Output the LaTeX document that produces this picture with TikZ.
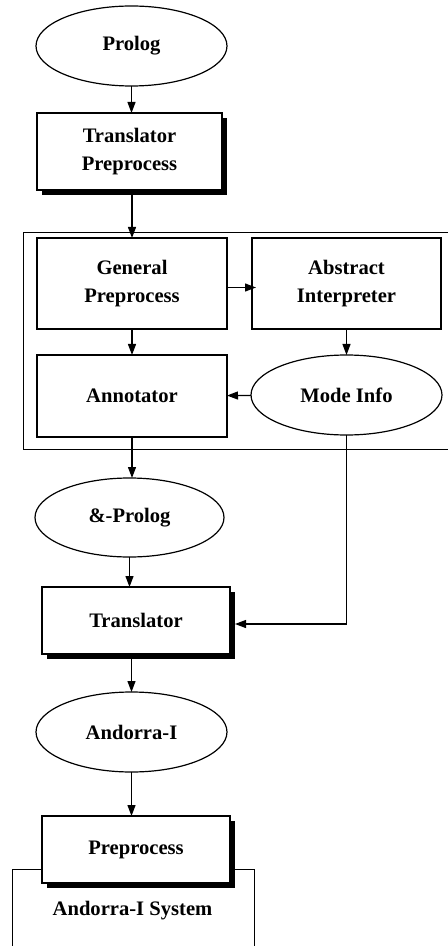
\documentclass[tikz,border=0pt]{standalone}
\usepackage{fontspec}
\setmainfont{Liberation Serif}
\usetikzlibrary{shapes,arrows.meta,positioning,calc,shadows}
\pgfdeclarelayer{background}
\pgfsetlayers{background,main}

\begin{document}
\begin{tikzpicture}[auto, >={Triangle[length=5.5pt,width=4pt]}, line width=0.6pt]
        \tikzset{
            block/.style={draw, fill=white, rectangle, minimum width=95pt, minimum height=45.5pt, align=center, inner sep=2pt, outer sep=0pt, font=\bfseries\fontsize{10.3}{14}\selectfont},
            shadowed/.style={drop shadow={shadow xshift=2.5pt, shadow yshift=-2.5pt, fill=black, opacity=1}},
            lang/.style={draw, fill=white, ellipse, minimum width=95.5pt, minimum height=40pt, align=center, inner sep=0pt, outer sep=0pt, font=\bfseries\fontsize{10.3}{14}\selectfont},
            line/.style={->, line width=0.6pt},
        }
        \useasboundingbox (-65.75pt,23pt) rectangle (157.75pt,-450pt);
        
        % Source language
        \node [lang] (prolog) {Prolog};
        
        % Translator preprocess
        \node [block, shadowed, below=13.5pt of prolog, xshift=-1pt, minimum width=92.5pt, minimum height=38.5pt] (tpre) {Translator\\Preprocess};
        
        % Annotation stage
        \node [block, below=24pt of tpre, xshift=1.25pt] (gp) {General\\Preprocess};
        \node [block, right=12.5pt of gp, minimum width=94.5pt] (ai) {Abstract\\Interpreter};
        \node [block, below=13pt of gp, minimum height=41pt] (ann) {Annotator};
        \node [lang, below=13pt of ai] (mi) {Mode Info};
        
        % Annotated program
        \node [lang, below=20.5pt of ann, xshift=-1.25pt, minimum width=94.5pt, minimum height=39.5pt] (amp) {\&-Prolog};
        
        % Translator
        \node [block, shadowed, below=15pt of amp, xshift=3.25pt, minimum width=94pt, minimum height=33.5pt] (tr) {Translator};
        
        % Target language
        \node [lang, below=19pt of tr, xshift=-2.25pt] (andorra) {Andorra-I};
        
        % Andorra-I system
        \node [block, shadowed, below=22pt of andorra, xshift=2.25pt, minimum width=94pt, minimum height=33.5pt] (pre) {Preprocess};
        \node [below=9pt of pre, xshift=-1.75pt, inner sep=0pt, font=\bfseries\fontsize{10.3}{14}\selectfont] (sys) {Andorra-I System};
        
        % Frames
        \begin{pgfonlayer}{background}
            \draw ($(gp.north west)+(-7pt,3pt)$) rectangle ($(mi.east |- ann.south)+(5pt,-6pt)$);
            \draw ($(pre.south west)+(-15pt,-40pt)$) |- ($(pre.south east)+(12pt,7pt)$) -- ++(0,-50pt);
        \end{pgfonlayer}
        
        % Connections
        \draw [line] (prolog.south) -- (prolog.south |- tpre.north);
        \draw [line] (gp.north |- tpre.south) -- (gp.north);
        \draw [line] ($(gp.east)+(0,-2pt)$) -- ($(ai.west)+(2pt,-2pt)$);
        \draw [line] (gp) -- (ann);
        \draw [line] (ai) -- (mi);
        \draw [line] (mi) -- (ann);
        \draw [line] (ann.south) -- (ann.south |- amp.north);
        \draw [line] (amp.south) -- (amp.south |- tr.north);
        \draw [line] (mi.south) |- ($(tr.east)+(2.5pt,-1.75pt)$);
        \draw [line] (andorra.north |- tr.south) -- (andorra.north);
        \draw [line] (andorra.south) -- (andorra.south |- pre.north);
    \end{tikzpicture}
\end{document}
